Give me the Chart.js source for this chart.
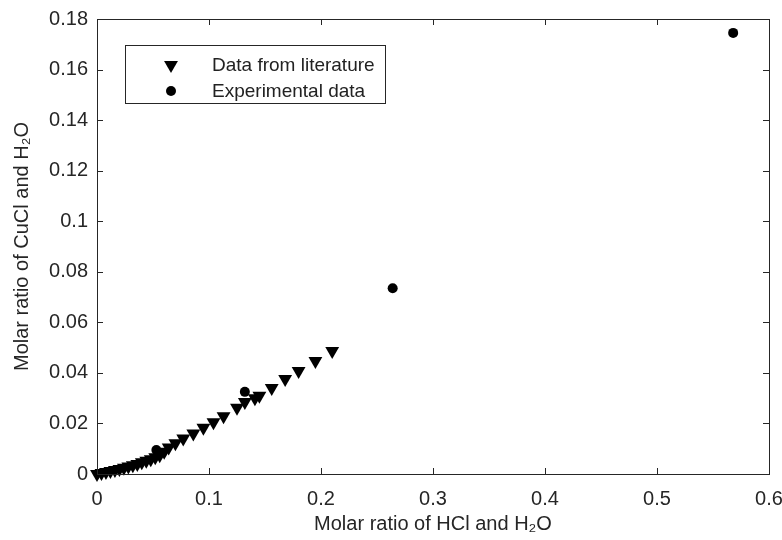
<!DOCTYPE html>
<html>
<head>
<meta charset="utf-8">
<script src="https://cdn.jsdelivr.net/npm/chart.js@4"></script>
<style>
  html, body { margin: 0; padding: 0; background: #fff; }
  #wrap { width: 782px; height: 540px; }
</style>
</head>
<body>
<div id="wrap"><canvas id="solubilityChart"></canvas></div>
<script>
// literature data (HCl/H2O vs CuCl/H2O)
const litX = [0, 0.004, 0.008, 0.012, 0.016, 0.020, 0.024, 0.028, 0.032, 0.036, 0.040, 0.044,
  0.048, 0.052, 0.056, 0.060, 0.064, 0.070, 0.077, 0.086, 0.095, 0.104, 0.113, 0.125, 0.132,
  0.141, 0.145, 0.156, 0.168, 0.180, 0.195, 0.210];
const litY = [0, 0.0004, 0.0008, 0.0012, 0.0016, 0.0020, 0.0025, 0.0030, 0.0035, 0.0040, 0.0046, 0.0052,
  0.0058, 0.0066, 0.0074, 0.0088, 0.0105, 0.0122, 0.0140, 0.0160, 0.0183, 0.0205, 0.0228, 0.0262, 0.0285,
  0.0300, 0.0310, 0.0340, 0.0376, 0.0407, 0.0447, 0.0487];

// experimental points
const expX = [0.053, 0.132, 0.264, 0.568];
const expY = [0.0095, 0.0325, 0.0735, 0.1745];

const legendLabels = ['Data from literature', 'Experimental data'];
const xTicks = [0, 0.1, 0.2, 0.3, 0.4, 0.5, 0.6];
const yTicks = [0, 0.02, 0.04, 0.06, 0.08, 0.1, 0.12, 0.14, 0.16, 0.18];

const axisColor = '#262626';
const fontFamily = '"Liberation Sans", Arial, Helvetica, sans-serif';

function toPoints(xs, ys) {
  return xs.map((x, i) => ({ x: x, y: ys[i] }));
}

// box around the plot + inward ticks on all four sides (MATLAB look)
const boxPlugin = {
  id: 'boxTicks',
  afterDraw(chart) {
    const ctx = chart.ctx;
    const a = chart.chartArea;
    const xs = chart.scales.x, ys = chart.scales.y;
    const len = 6;
    ctx.save();
    ctx.strokeStyle = axisColor;
    ctx.lineWidth = 1;
    ctx.strokeRect(a.left + 0.5, a.top + 0.5, a.right - a.left, a.bottom - a.top);
    ctx.beginPath();
    xTicks.forEach(v => {
      const px = Math.round(xs.getPixelForValue(v)) + 0.5;
      ctx.moveTo(px, a.bottom); ctx.lineTo(px, a.bottom - len);
      ctx.moveTo(px, a.top); ctx.lineTo(px, a.top + len);
    });
    yTicks.forEach(v => {
      const py = Math.round(ys.getPixelForValue(v)) + 0.5;
      ctx.moveTo(a.left, py); ctx.lineTo(a.left + len, py);
      ctx.moveTo(a.right, py); ctx.lineTo(a.right - len, py);
    });
    ctx.stroke();
    ctx.restore();
  }
};

// legend box inside the plot, top left
const insideLegend = {
  id: 'insideLegend',
  afterDraw(chart) {
    const ctx = chart.ctx;
    const a = chart.chartArea;
    const left = a.left + 28, top = a.top + 26, w = 260, h = 58;
    ctx.save();
    ctx.fillStyle = '#fff';
    ctx.fillRect(left, top, w, h);
    ctx.strokeStyle = axisColor;
    ctx.lineWidth = 1;
    ctx.strokeRect(left + 0.5, top + 0.5, w, h);
    const ds = [chart.data.datasets[1], chart.data.datasets[0]];
    ds.forEach((d, i) => {
      const cy = top + 20 + i * 26;
      ctx.fillStyle = '#000';
      ctx.strokeStyle = '#000';
      Chart.helpers.drawPoint(ctx, {
        pointStyle: d.pointStyle,
        rotation: d.rotation || 0,
        radius: d.pointRadius,
        borderWidth: 0
      }, left + 46, cy);
      ctx.fillStyle = '#222';
      ctx.font = '19px ' + fontFamily;
      ctx.textBaseline = 'middle';
      ctx.fillText(legendLabels[i], left + 87, cy + 1);
    });
    ctx.restore();
  }
};

const ctx = document.getElementById('solubilityChart').getContext('2d');

new Chart(ctx, {
  type: 'scatter',
  data: {
    datasets: [{
      label: legendLabels[1],
      data: toPoints(expX, expY),
      pointStyle: 'circle',
      pointRadius: 5,
      backgroundColor: '#000',
      borderColor: '#000',
      borderWidth: 0,
      clip: false,
      order: 0
    }, {
      label: legendLabels[0],
      data: toPoints(litX, litY),
      pointStyle: 'triangle',
      rotation: 180,
      pointRadius: 8,
      backgroundColor: '#000',
      borderColor: '#000',
      borderWidth: 0,
      clip: false,
      order: 1
    }]
  },
  options: {
    responsive: true,
    maintainAspectRatio: false,
    animation: false,
    layout: { padding: { top: 19, right: 13, left: 0, bottom: 0 } },
    plugins: {
      legend: { display: false },
      tooltip: { enabled: false }
    },
    scales: {
      x: {
        type: 'linear',
        min: 0,
        max: 0.6,
        afterBuildTicks: s => { s.ticks = xTicks.map(v => ({ value: v })); },
        afterFit: s => { s.height = 66; s.paddingLeft = 0; s.paddingRight = 0; },
        grid: { display: false },
        border: { display: false },
        ticks: {
          color: axisColor,
          font: { family: fontFamily, size: 20 },
          padding: 5,
          maxRotation: 0,
          callback: v => String(+v.toFixed(1))
        },
        title: {
          display: true,
          text: 'Molar ratio of HCl and H\u2082O',
          color: axisColor,
          font: { family: fontFamily, size: 20 },
          padding: { top: 0, bottom: 4 }
        }
      },
      y: {
        type: 'linear',
        min: 0,
        max: 0.18,
        afterBuildTicks: s => { s.ticks = yTicks.map(v => ({ value: v })); },
        afterFit: s => { s.width = 97; s.paddingTop = 0; s.paddingBottom = 0; },
        grid: { display: false },
        border: { display: false },
        ticks: {
          color: axisColor,
          font: { family: fontFamily, size: 20 },
          padding: 1,
          callback: v => String(+v.toFixed(2))
        },
        title: {
          display: true,
          text: 'Molar ratio of CuCl and H\u2082O',
          color: axisColor,
          font: { family: fontFamily, size: 20 },
          padding: { top: 10, bottom: 0 }
        }
      }
    }
  },
  plugins: [boxPlugin, insideLegend]
});
</script>
</body>
</html>
